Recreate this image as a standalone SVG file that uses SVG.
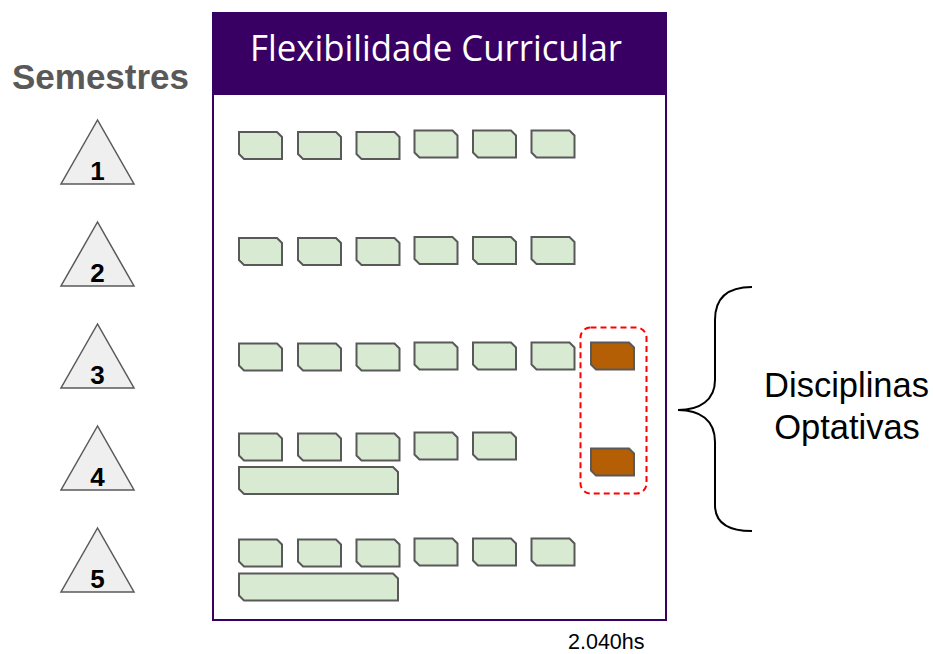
<svg xmlns="http://www.w3.org/2000/svg" width="933" height="654" viewBox="0 0 933 654">
<style>
.lbl{font-family:"Liberation Sans",Arial,sans-serif}
.c{fill:#d9ead3;stroke:#595959;stroke-width:2}
.o{fill:#b45f06;stroke:#595959;stroke-width:2}
.tri{fill:#efefef;stroke:#595959;stroke-width:1.5}
.num{font-family:"Liberation Sans",Arial,sans-serif;font-weight:bold;font-size:26px;fill:#000;text-anchor:middle}
</style>
<defs>
<path id="sm" d="M0,0 H38 L43,5 V27 H5 L0,22 Z"/>
<path id="wd" d="M0,0 H154 L159,5 V27 H5 L0,22 Z"/>
</defs>
<rect width="933" height="654" fill="#fff"/>

<g id="semestres">
<text class="lbl" x="12" y="89" font-size="35" font-weight="bold" fill="#595959" textLength="177" lengthAdjust="spacingAndGlyphs">Semestres</text>
</g>
<g id="sem1"><polygon class="tri" points="97.5,120 61,184 134,184"/><text class="num" x="97.5" y="180">1</text></g>
<g id="sem2"><polygon class="tri" points="97.5,222 61,286 134,286"/><text class="num" x="97.5" y="282">2</text></g>
<g id="sem3"><polygon class="tri" points="97.5,324 61,388 134,388"/><text class="num" x="97.5" y="384">3</text></g>
<g id="sem4"><polygon class="tri" points="97.5,426 61,490 134,490"/><text class="num" x="97.5" y="486">4</text></g>
<g id="sem5"><polygon class="tri" points="97.5,528 61,592 134,592"/><text class="num" x="97.5" y="588">5</text></g>

<g id="frame">
<rect x="213" y="13" width="453" height="607" fill="#fff" stroke="#380062" stroke-width="2"/>
<rect x="213" y="13" width="453" height="82" fill="#380062"/>
<text x="250" y="61" font-family="'Open Sans','DejaVu Sans',sans-serif" font-size="36" fill="#fff" textLength="372" lengthAdjust="spacingAndGlyphs">Flexibilidade Curricular</text>
</g>

<g id="row1">
<use href="#sm" class="c" x="239" y="132"/><use href="#sm" class="c" x="298" y="132"/><use href="#sm" class="c" x="356.5" y="132"/>
<use href="#sm" class="c" x="414.5" y="130.5"/><use href="#sm" class="c" x="473" y="130.5"/><use href="#sm" class="c" x="531.5" y="130.5"/>
</g>
<g id="row2">
<use href="#sm" class="c" x="239" y="238"/><use href="#sm" class="c" x="298" y="238"/><use href="#sm" class="c" x="356.5" y="238"/>
<use href="#sm" class="c" x="414.5" y="237"/><use href="#sm" class="c" x="473" y="237"/><use href="#sm" class="c" x="531.5" y="237"/>
</g>
<g id="row3">
<use href="#sm" class="c" x="239" y="343.5"/><use href="#sm" class="c" x="298" y="343.5"/><use href="#sm" class="c" x="356.5" y="343.5"/>
<use href="#sm" class="c" x="414.5" y="342.5"/><use href="#sm" class="c" x="473" y="342.5"/><use href="#sm" class="c" x="531.5" y="342.5"/>
<use href="#sm" class="o" x="591" y="342.5"/>
</g>
<g id="row4">
<use href="#sm" class="c" x="239" y="433.5"/><use href="#sm" class="c" x="298" y="433.5"/><use href="#sm" class="c" x="356.5" y="433.5"/>
<use href="#sm" class="c" x="414.5" y="432.5"/><use href="#sm" class="c" x="473" y="432.5"/>
<use href="#wd" class="c" x="239" y="467"/>
<use href="#sm" class="o" x="591" y="448.5"/>
</g>
<g id="row5">
<use href="#sm" class="c" x="239" y="539.5"/><use href="#sm" class="c" x="298" y="539.5"/><use href="#sm" class="c" x="356.5" y="539.5"/>
<use href="#sm" class="c" x="414.5" y="538.5"/><use href="#sm" class="c" x="473" y="538.5"/><use href="#sm" class="c" x="531.5" y="538.5"/>
<use href="#wd" class="c" x="239" y="573.5"/>
</g>

<g id="optativas-group">
<rect x="580.5" y="327.5" width="66" height="166" rx="10" fill="none" stroke="#ff0000" stroke-width="2" stroke-dasharray="6 4"/>
</g>

<g id="connectors">
<path d="M752,287 C730,287 715,296 715,320 L715,380 C715,400 700,410 678,410 C700,410 715,420 715,442 L715,505 C715,524 730,531 752,531" fill="none" stroke="#000" stroke-width="2"/>
</g>

<g id="label-optativas">
<text class="lbl" x="846.5" y="397" font-size="34.5" text-anchor="middle" fill="#000">Disciplinas</text>
<text class="lbl" x="847" y="439" font-size="34.5" text-anchor="middle" fill="#000">Optativas</text>
</g>
<g id="hours">
<text class="lbl" x="568" y="649" font-size="21.5" fill="#000">2.040hs</text>
</g>
</svg>
